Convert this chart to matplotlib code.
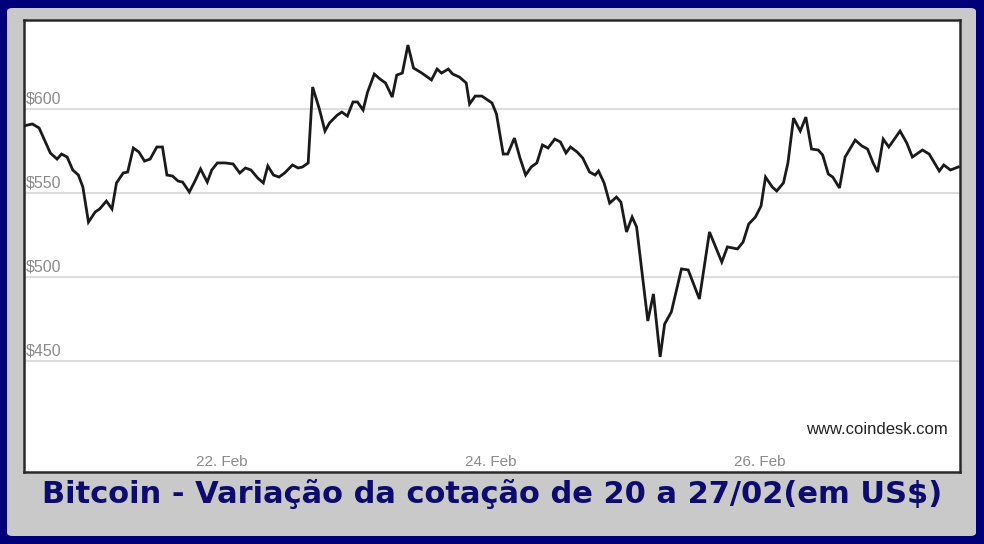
import matplotlib
matplotlib.use('Agg')
import matplotlib.pyplot as plt
from matplotlib.patches import FancyBboxPatch
from matplotlib.transforms import blended_transform_factory
import numpy as np

# hours since 21 Feb 00:00
hours = [-11.4, -9.8, -8.6, -6.6, -5.4, -4.6, -3.6, -2.6, -1.6, -0.8, 0.2, 1.4, 2.2, 3.4,
         4.4, 5.2, 6.4, 7.2, 8.2, 9.2, 10.2, 11.2, 12.4, 13.4, 14.2, 15.2, 16.2,
         17.0, 18.2, 19.2, 20.2, 21.4, 22.2, 23.2, 24.6, 26.0, 27.2, 28.2, 29.2, 30.4,
         31.4, 32.2, 33.2, 34.2, 35.2, 36.6, 37.6, 38.4, 39.4, 40.2, 41.4, 42.4, 43.2,
         44.6, 45.4, 46.4, 47.4, 48.2, 49.2, 50.0, 51.2, 52.2, 53.2, 54.4, 55.2, 56.2,
         57.2, 58.2, 59.4, 60.2, 61.4, 62.4, 63.2, 64.4, 65.2, 66.4, 67.6, 68.2, 69.2,
         70.4, 72.2, 73.0, 74.2, 75.0, 76.2, 77.2, 78.2, 79.2, 80.2, 81.2, 82.2, 83.4,
         84.4, 85.4, 86.2, 87.4, 88.4, 89.6, 90.6, 91.2, 92.2, 93.2, 94.4, 95.2, 96.2,
         97.2, 98.0, 100.0, 101.0, 102.2, 103.0, 104.2, 106.0, 107.2, 109.2, 111.0, 113.2, 114.2,
         116.0, 117.0, 118.0, 119.2, 120.2, 121.0, 122.2, 123.0, 124.2, 125.0, 126.0, 127.2, 128.2,
         129.2, 130.4, 131.2, 132.2, 133.0, 134.2, 135.2, 137.0, 138.2, 139.2, 140.2, 141.0, 142.0,
         143.0, 145.0, 146.2, 147.2, 149.0, 150.2, 152.0, 152.8, 154.0, 155.4]
price = [589.9, 591.1, 588.7, 573.8, 570.2, 573.2, 571.4, 563.7, 560.7, 553.6, 532.7,
         538.7, 540.5, 545.2, 540.5, 556.0, 561.9, 562.5, 576.8, 574.4, 569.0, 570.2,
         577.4, 577.4, 560.7, 560.1, 557.1, 556.5, 550.6, 557.1, 564.3, 556.5, 563.7,
         567.9, 567.9, 567.3, 561.9, 564.9, 563.7, 558.9, 556.0, 566.1, 560.7, 559.5,
         561.9, 566.7, 564.9, 565.5, 567.9, 613.1, 600.0, 586.9, 591.7, 596.4, 598.2,
         595.8, 604.2, 604.2, 599.4, 610.1, 620.8, 617.9, 615.5, 607.1, 620.2, 621.4,
         638.1, 624.4, 622.0, 620.2, 617.3, 623.8, 621.4, 623.8, 620.8, 619.0, 615.5,
         603.0, 607.7, 607.7, 603.6, 597.0, 573.2, 573.2, 582.7, 570.8, 560.7, 565.5,
         567.9, 578.6, 576.8, 582.1, 580.4, 573.8, 577.4, 574.4, 570.8, 562.5, 560.7,
         563.1, 556.0, 544.0, 547.6, 544.6, 526.8, 535.7, 529.8, 473.8, 489.9, 452.4,
         472.0, 479.2, 504.8, 504.2, 486.9, 526.8, 508.9, 517.9, 516.7, 520.8, 531.5,
         535.7, 542.3, 559.5, 553.6, 551.2, 556.0, 567.9, 594.6, 586.9, 595.2, 576.2,
         575.6, 572.6, 561.3, 559.5, 553.0, 571.4, 581.5, 578.0, 576.2, 567.9, 562.5,
         582.1, 577.4, 586.9, 579.8, 571.4, 575.6, 573.2, 563.1, 566.7, 563.7, 565.5]

y_ticks = [450, 500, 550, 600]
y_labels = ['$450', '$500', '$550', '$600']
x_ticks = [24, 72, 120]
x_labels = ['22. Feb', '24. Feb', '26. Feb']
title = 'Bitcoin - Variação da cotação de 20 a 27/02(em US$)'

W, H = 984, 544
fig = plt.figure(figsize=(W / 100, H / 100), dpi=100)
fig.patch.set_facecolor('#00007a')

# gray inner frame, kept behind the axes
frame = FancyBboxPatch((7 / W, 8 / H), 969 / W, 528 / H,
                       boxstyle='round,pad=0,rounding_size=0.006',
                       transform=fig.transFigure, facecolor='#c9c9c9',
                       edgecolor='none', zorder=-10)
fig.patches.append(frame)

ax = fig.add_axes([24 / W, 1 - 472 / H, 936 / W, 452 / H], zorder=1)
ax.set_facecolor('white')
ax.set_xlim(-11.3, 155.7)
ax.set_ylim(383.9, 653.0)

for v in y_ticks:
    ax.axhline(v, color='#dcdcdc', lw=1.4, zorder=1)

ax.plot(hours, price, color='#1a1a1a', lw=2.0, zorder=3, solid_joinstyle='miter')

ax.set_xticks([])
ax.set_yticks([])
for s in ax.spines.values():
    s.set_color('#2a2a2a')
    s.set_linewidth(1.8)

tr = blended_transform_factory(ax.transAxes, ax.transData)
for v, lab in zip(y_ticks, y_labels):
    ax.text(0.002, v + 1.5, lab, transform=tr, ha='left', va='bottom',
            fontsize=11.5, color='#8a8a8a', family='Liberation Sans')

tr2 = blended_transform_factory(ax.transData, ax.transAxes)
for v, lab in zip(x_ticks, x_labels):
    ax.text(v, 0.022, lab, transform=tr2, ha='center', va='center',
            fontsize=11, color='#8a8a8a', family='Liberation Sans')

ax.text(0.987, 0.095, 'www.coindesk.com', transform=ax.transAxes, ha='right',
        va='center', fontsize=12, color='#222222', family='Liberation Sans')

fig.text(492 / W, 1 - 494 / H, title, ha='center', va='center',
         fontsize=22, fontweight='bold', color='#0c0c6e', family='DejaVu Sans')

fig.savefig('out.png', dpi=100, facecolor=fig.get_facecolor())
